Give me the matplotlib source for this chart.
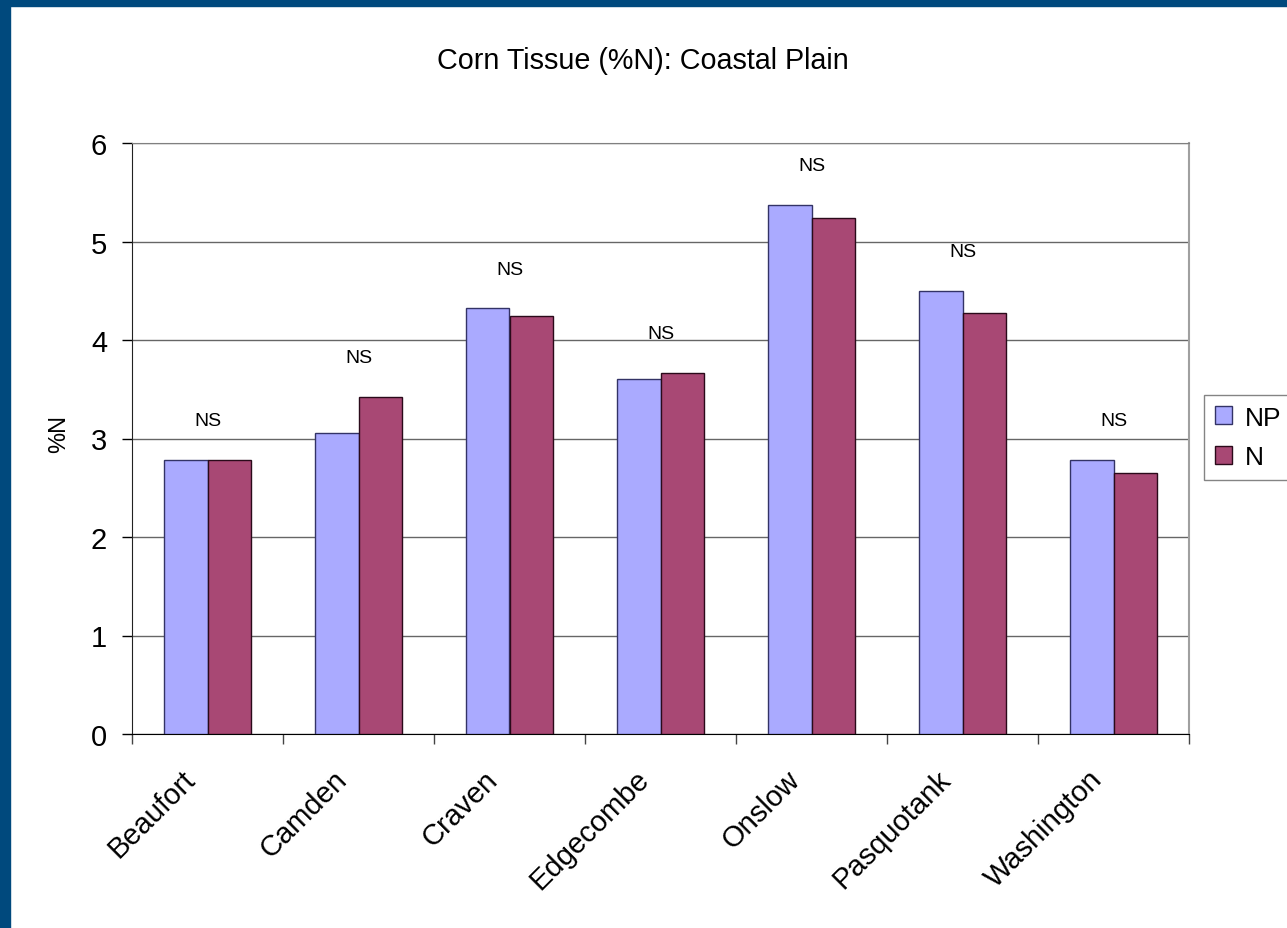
import numpy as np
import matplotlib.pyplot as plt
import matplotlib.transforms as mtransforms
from matplotlib.patches import Rectangle

# %N in corn tissue, by county and treatment
counties = ["Beaufort", "Camden", "Craven", "Edgecombe", "Onslow", "Pasquotank", "Washington"]
np_vals = [2.78, 3.06, 4.32, 3.60, 5.37, 4.50, 2.78]
n_vals = [2.78, 3.42, 4.24, 3.67, 5.24, 4.27, 2.65]
sig = ["NS", "NS", "NS", "NS", "NS", "NS", "NS"]

plt.rcParams['font.family'] = ['Liberation Sans', 'DejaVu Sans']

W, H = 1287, 929
fig = plt.figure(figsize=(W / 100, H / 100), dpi=100)
fig.patch.set_facecolor('white')

# dark blue slide frame, left and top
border = '#00497D'
fig.add_artist(Rectangle((0, 0), 10 / W, 1, transform=fig.transFigure, color=border, zorder=0))
fig.add_artist(Rectangle((0, 1 - 7 / H), 1, 7 / H, transform=fig.transFigure, color=border, zorder=0))

ax = fig.add_axes([132 / W, 1 - 735 / H, (1189 - 132) / W, (735 - 144) / H])

x = np.arange(len(counties))
bw = 0.285
ax.bar(x - bw / 2, np_vals, bw, color='#AAAAFF', edgecolor='#333366', linewidth=1, label='NP', zorder=3)
ax.bar(x + bw / 2, n_vals, bw, color='#A84874', edgecolor='#2a0a1a', linewidth=1, label='N', zorder=3)

for xi, a, b, s in zip(x, np_vals, n_vals, sig):
    ax.text(xi, max(a, b) + 0.4, s, ha='center', va='center', fontsize=14, zorder=4)

ax.set_xlim(-0.5, len(counties) - 0.5)
ax.set_ylim(0, 6)
ax.set_yticks(range(7))
ax.tick_params(axis='y', labelsize=21, length=7, width=1, direction='out', pad=11)
ax.set_xticks(x)
ax.set_xticklabels(counties, rotation=45, ha='right', va='top', rotation_mode='anchor', fontsize=21)
ax.set_xticks(np.arange(len(counties) + 1) - 0.5, minor=True)
ax.tick_params(axis='x', which='major', length=0, pad=22)
ax.tick_params(axis='x', which='minor', length=7, width=1, direction='out', color='#444444')
shift = mtransforms.ScaledTranslation(-26 / 100, 0, fig.dpi_scale_trans)
for lab in ax.get_xticklabels():
    lab.set_transform(lab.get_transform() + shift)

ax.yaxis.grid(True, color='#666666', linewidth=1, zorder=0)
ax.set_axisbelow(True)
ax.spines['left'].set_color('#222222')
ax.spines['bottom'].set_color('black')
ax.spines['top'].set_color('#808080')
ax.spines['right'].set_color('#A0A0A0')
ax.spines['right'].set_linewidth(1.5)

ax.set_ylabel('%N', fontsize=17)
ax.yaxis.set_label_coords((70 - 132) / 1057, 0.51)
fig.text(643 / W, 1 - 61 / H, 'Corn Tissue (%N): Coastal Plain', ha='center', va='center', fontsize=20.7)

leg = fig.legend(loc='upper left', bbox_to_anchor=(1204 / W, 1 - 396 / H), fontsize=19,
                 frameon=True, fancybox=False, handlelength=0.65, handleheight=0.65,
                 handletextpad=0.5, borderpad=0.4, labelspacing=0.6, borderaxespad=0)
leg.get_frame().set_edgecolor('#666666')
leg.get_frame().set_linewidth(1)

fig.savefig('out.png', dpi=100, facecolor='white')
